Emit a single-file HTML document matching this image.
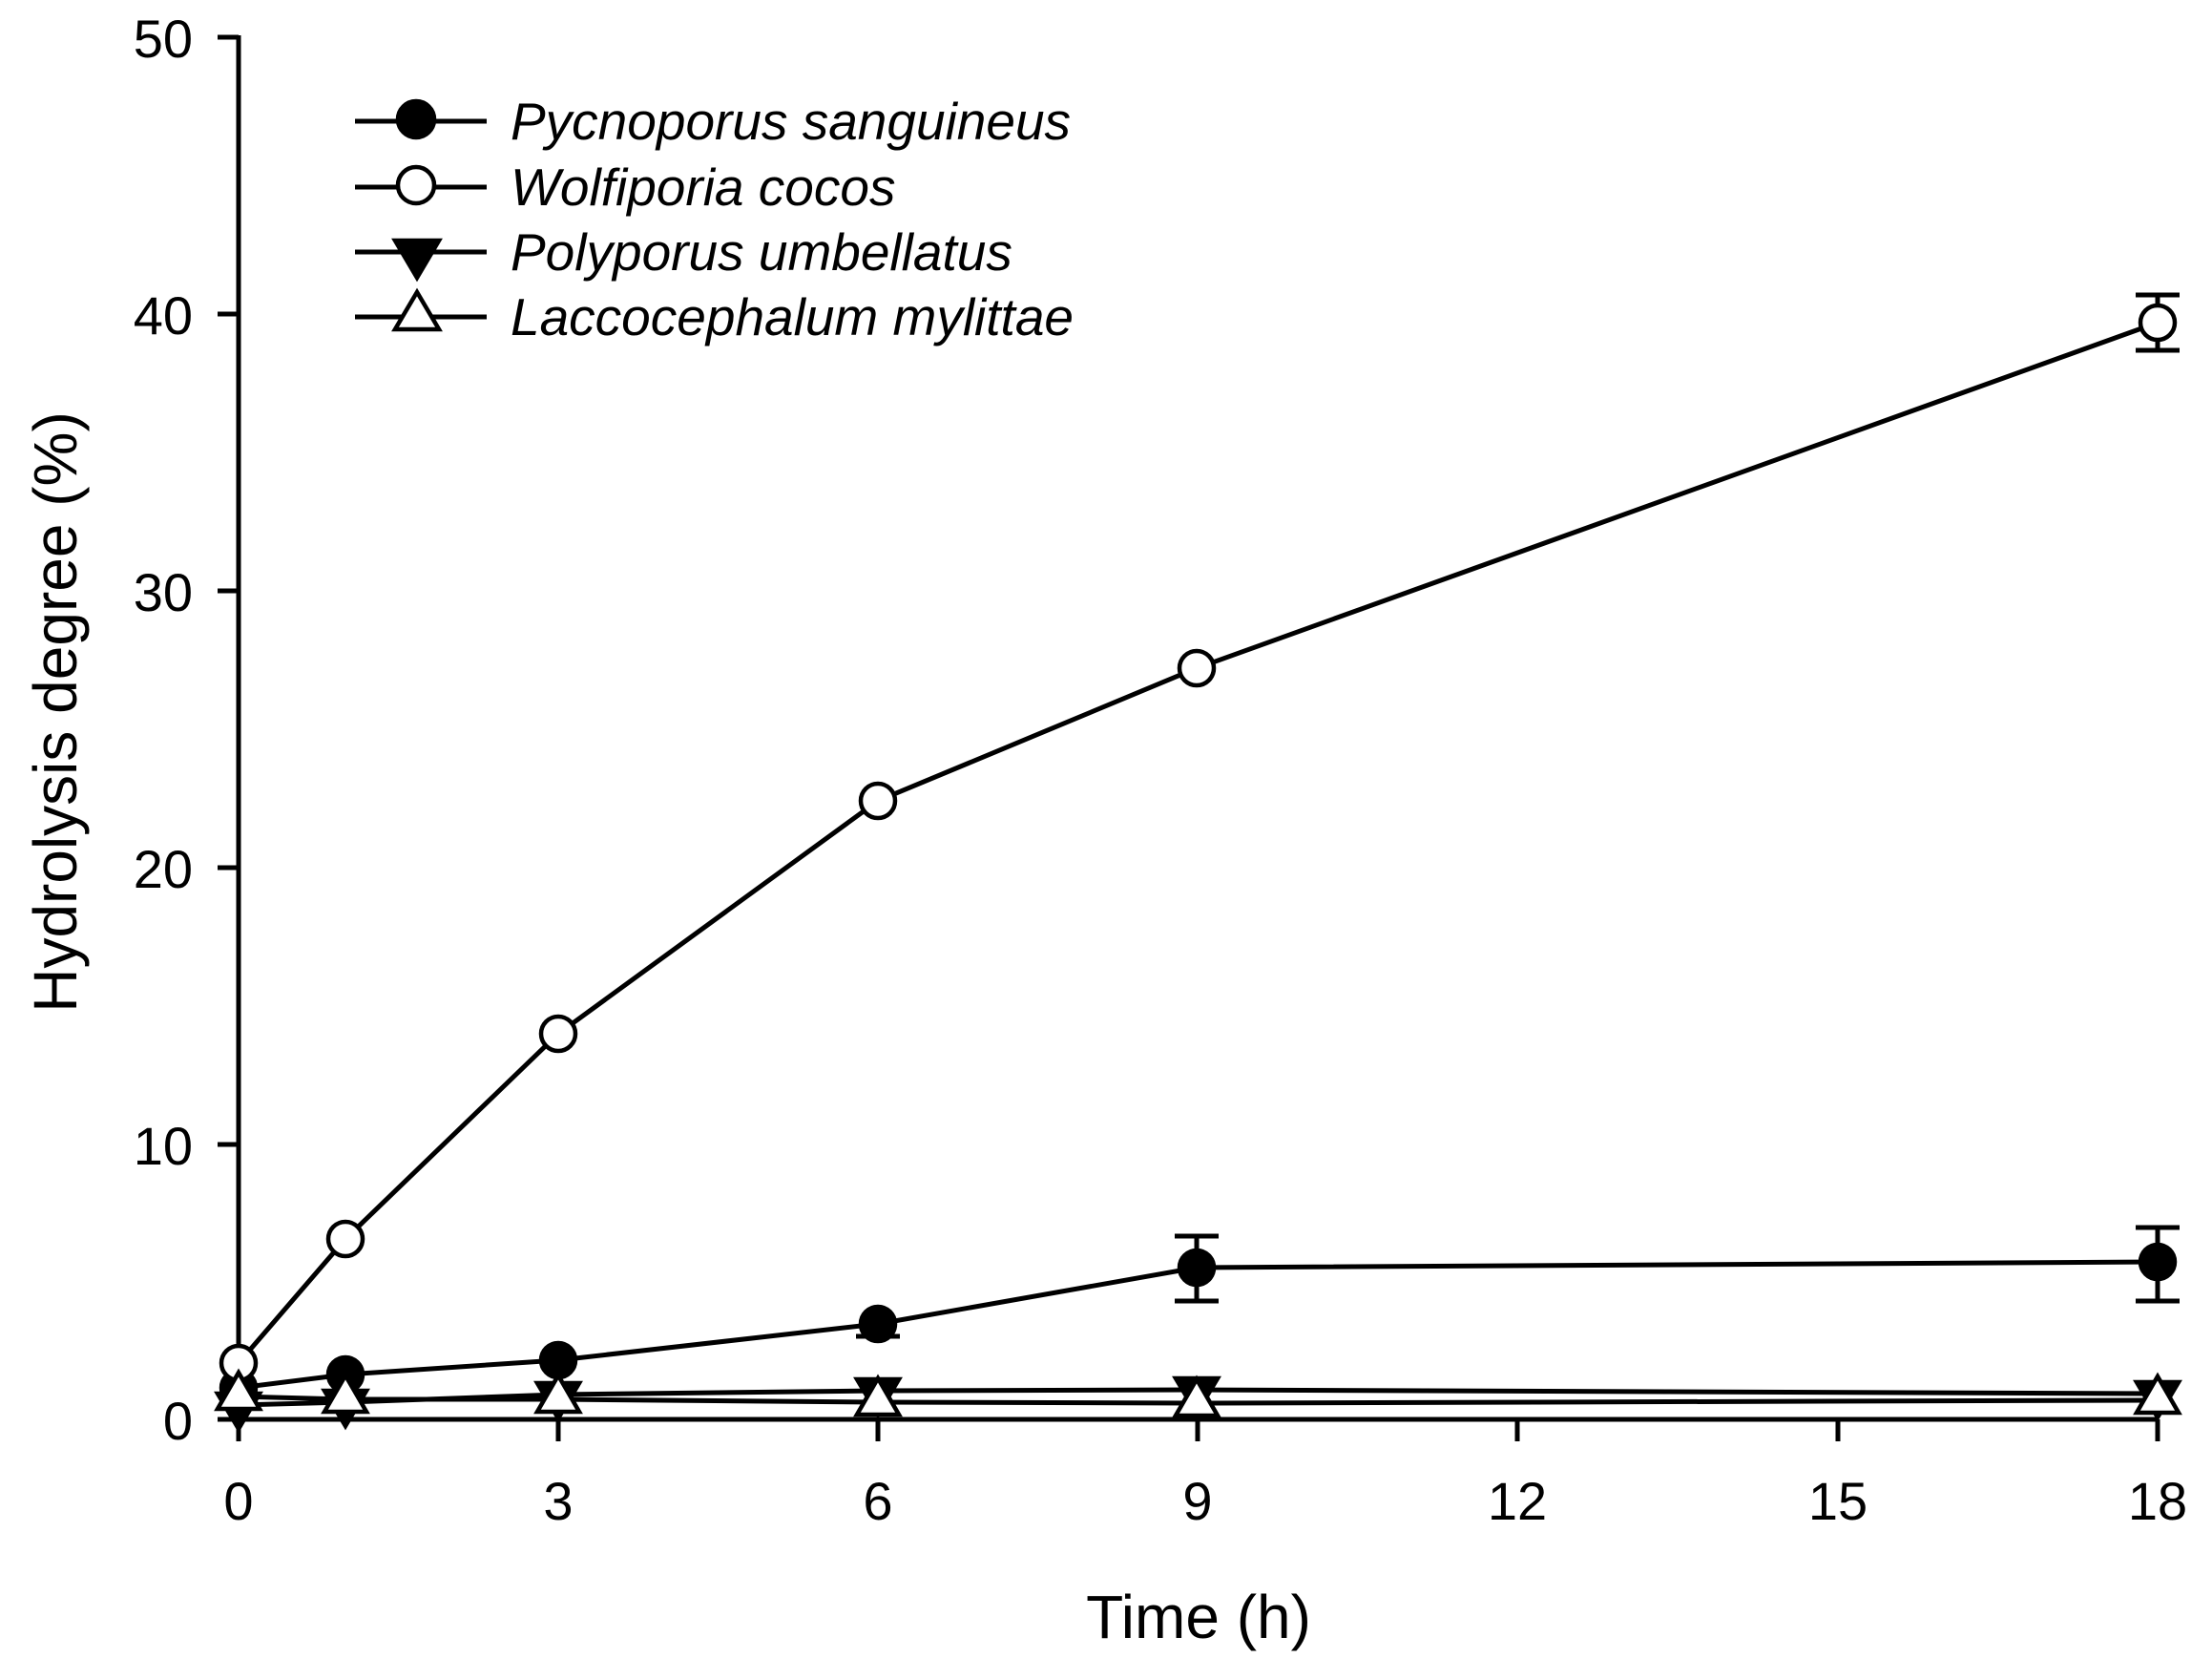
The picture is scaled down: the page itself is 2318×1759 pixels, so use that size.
<!DOCTYPE html>
<html><head><meta charset="utf-8"><style>html,body{margin:0;padding:0;background:#fff}svg{display:block}</style></head>
<body>
<svg width="2318" height="1759" viewBox="0 0 2318 1759" xmlns="http://www.w3.org/2000/svg" font-family="Liberation Sans, Arial, sans-serif">
<g stroke="#000" stroke-width="5" fill="none">
<line x1="250" y1="37" x2="250" y2="1489"/>
<line x1="228" y1="1487" x2="2261" y2="1487"/>
<line x1="228" y1="39" x2="250" y2="39"/>
<line x1="228" y1="329" x2="250" y2="329"/>
<line x1="228" y1="619" x2="250" y2="619"/>
<line x1="228" y1="909" x2="250" y2="909"/>
<line x1="228" y1="1199" x2="250" y2="1199"/>
<line x1="250" y1="1487" x2="250" y2="1510"/>
<line x1="585" y1="1487" x2="585" y2="1510"/>
<line x1="920" y1="1487" x2="920" y2="1510"/>
<line x1="1255" y1="1487" x2="1255" y2="1510"/>
<line x1="1590" y1="1487" x2="1590" y2="1510"/>
<line x1="1926" y1="1487" x2="1926" y2="1510"/>
<line x1="2261" y1="1487" x2="2261" y2="1510"/>
<polyline points="250,1428 362,1298 585,1083 920,839 1254,700 2261,338"/>
<polyline points="250,1454 362,1440 585,1425 920,1387 1254,1328 2261,1322"/>
<polyline points="250,1472 362,1469 585,1461 920,1457 1254,1456 2261,1460"/>
<polyline points="250,1463 362,1466 585,1466 920,1469 1254,1470 2261,1467"/>
<path d="M2261,309V367M2238,309H2284M2238,367H2284"/>
<path d="M1254,1295V1363M1231,1295H1277M1231,1363H1277"/>
<path d="M2261,1286V1363M2238,1286H2284M2238,1363H2284"/>
<path d="M920,1377V1400M897,1400H943"/>
<line x1="372" y1="127" x2="510" y2="127"/>
<line x1="372" y1="196" x2="510" y2="196"/>
<line x1="372" y1="264" x2="510" y2="264"/>
<line x1="372" y1="332" x2="510" y2="332"/>
</g>
<g stroke="#000" stroke-width="4.5">
<g fill="#000">
<circle cx="436" cy="125" r="19"/>
<circle cx="250" cy="1454" r="18"/><circle cx="362" cy="1440" r="18"/><circle cx="585" cy="1425" r="18"/><circle cx="920" cy="1387" r="18"/><circle cx="1254" cy="1328" r="18"/><circle cx="2261" cy="1322" r="18"/>
<path d="M414,252H460L437,291Z"/>
<path d="M228,1460H272L250,1497Z"/><path d="M340,1457H384L362,1494Z"/><path d="M563,1449H607L585,1486Z"/><path d="M898,1445H942L920,1482Z"/><path d="M1232,1444H1276L1254,1481Z"/><path d="M2239,1448H2283L2261,1485Z"/>
</g>
<g fill="#fff">
<circle cx="436" cy="194" r="19"/>
<circle cx="250" cy="1428" r="18"/><circle cx="362" cy="1298" r="18"/><circle cx="585" cy="1083" r="18"/><circle cx="920" cy="839" r="18"/><circle cx="1254" cy="700" r="18"/><circle cx="2261" cy="338" r="18"/>
<path d="M414,345H460L437,306Z"/>
<path d="M228,1476H272L250,1438Z"/><path d="M340,1479H384L362,1441Z"/><path d="M563,1479H607L585,1441Z"/><path d="M898,1482H942L920,1444Z"/><path d="M1232,1483H1276L1254,1445Z"/><path d="M2239,1480H2283L2261,1442Z"/>
</g>
</g>
<g font-size="56" fill="#000" text-anchor="end">
<text x="202" y="60">50</text>
<text x="202" y="350">40</text>
<text x="202" y="640">30</text>
<text x="202" y="930">20</text>
<text x="202" y="1220">10</text>
<text x="202" y="1508">0</text>
</g>
<g font-size="56" fill="#000" text-anchor="middle">
<text x="250" y="1592">0</text>
<text x="585" y="1592">3</text>
<text x="920" y="1592">6</text>
<text x="1255" y="1592">9</text>
<text x="1590" y="1592">12</text>
<text x="1926" y="1592">15</text>
<text x="2261" y="1592">18</text>
</g>
<text x="1256" y="1716" font-size="64" text-anchor="middle">Time (h)</text>
<text transform="translate(80,746) rotate(-90)" font-size="64" text-anchor="middle">Hydrolysis degree (%)</text>
<g font-size="55" font-style="italic" fill="#000">
<text x="535" y="146">Pycnoporus sanguineus</text>
<text x="535" y="215">Wolfiporia cocos</text>
<text x="535" y="283">Polyporus umbellatus</text>
<text x="535" y="351">Laccocephalum mylittae</text>
</g>
</svg>
</body></html>
